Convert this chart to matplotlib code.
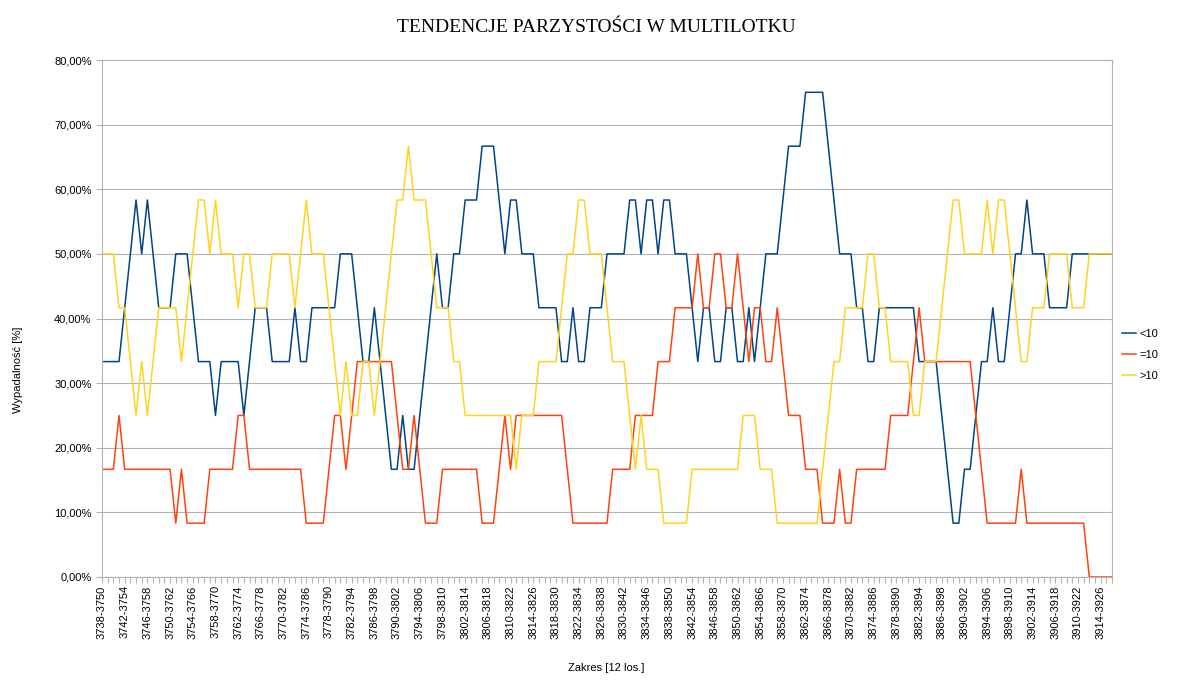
import numpy as np
import matplotlib
matplotlib.use("Agg")
import matplotlib.pyplot as plt
from matplotlib.ticker import FuncFormatter

plt.rcParams['font.family'] = ['Liberation Sans', 'DejaVu Sans']

# zakresy 12 losowań: 3738-3750 ... 3916-3928
zakresy = [f"{s}-{s + 12}" for s in range(3738, 3917)]

# ile razy (na 12 losowań) wypadło <10, =10, >10
mniej_10 = [4, 4, 4, 4, 5, 6, 7, 6, 7, 6, 5, 5, 5, 6, 6, 6, 5, 4, 4, 4,
            3, 4, 4, 4, 4, 3, 4, 5, 5, 5, 4, 4, 4, 4, 5, 4, 4, 5, 5, 5,
            5, 5, 6, 6, 6, 5, 4, 4, 5, 4, 3, 2, 2, 3, 2, 2, 3, 4, 5, 6,
            5, 5, 6, 6, 7, 7, 7, 8, 8, 8, 7, 6, 7, 7, 6, 6, 6, 5, 5, 5,
            5, 4, 4, 5, 4, 4, 5, 5, 5, 6, 6, 6, 6, 7, 7, 6, 7, 7, 6, 7,
            7, 6, 6, 6, 5, 4, 5, 5, 4, 4, 5, 5, 4, 4, 5, 4, 5, 6, 6, 6,
            7, 8, 8, 8, 9, 9, 9, 9, 8, 7, 6, 6, 6, 5, 5, 4, 4, 5, 5, 5,
            5, 5, 5, 5, 4, 4, 4, 4, 3, 2, 1, 1, 2, 2, 3, 4, 4, 5, 4, 4,
            5, 6, 6, 7, 6, 6, 6, 5, 5, 5, 5, 6, 6, 6, 6, 6, 6, 6, 6]
rowne_10 = [2, 2, 2, 3, 2, 2, 2, 2, 2, 2, 2, 2, 2, 1, 2, 1, 1, 1, 1, 2,
            2, 2, 2, 2, 3, 3, 2, 2, 2, 2, 2, 2, 2, 2, 2, 2, 1, 1, 1, 1,
            2, 3, 3, 2, 3, 4, 4, 4, 4, 4, 4, 4, 3, 2, 2, 3, 2, 1, 1, 1,
            2, 2, 2, 2, 2, 2, 2, 1, 1, 1, 2, 3, 2, 3, 3, 3, 3, 3, 3, 3,
            3, 3, 2, 1, 1, 1, 1, 1, 1, 1, 2, 2, 2, 2, 3, 3, 3, 3, 4, 4,
            4, 5, 5, 5, 5, 6, 5, 5, 6, 6, 5, 5, 6, 5, 4, 5, 5, 4, 4, 5,
            4, 3, 3, 3, 2, 2, 2, 1, 1, 1, 2, 1, 1, 2, 2, 2, 2, 2, 2, 3,
            3, 3, 3, 4, 5, 4, 4, 4, 4, 4, 4, 4, 4, 4, 3, 2, 1, 1, 1, 1,
            1, 1, 2, 1, 1, 1, 1, 1, 1, 1, 1, 1, 1, 1, 0, 0, 0, 0, 0]
wiecej_10 = [6, 6, 6, 5, 5, 4, 3, 4, 3, 4, 5, 5, 5, 5, 4, 5, 6, 7, 7, 6,
             7, 6, 6, 6, 5, 6, 6, 5, 5, 5, 6, 6, 6, 6, 5, 6, 7, 6, 6, 6,
             5, 4, 3, 4, 3, 3, 4, 4, 3, 4, 5, 6, 7, 7, 8, 7, 7, 7, 6, 5,
             5, 5, 4, 4, 3, 3, 3, 3, 3, 3, 3, 3, 3, 2, 3, 3, 3, 4, 4, 4,
             4, 5, 6, 6, 7, 7, 6, 6, 6, 5, 4, 4, 4, 3, 2, 3, 2, 2, 2, 1,
             1, 1, 1, 1, 2, 2, 2, 2, 2, 2, 2, 2, 2, 3, 3, 3, 2, 2, 2, 1,
             1, 1, 1, 1, 1, 1, 1, 2, 3, 4, 4, 5, 5, 5, 5, 6, 6, 5, 5, 4,
             4, 4, 4, 3, 3, 4, 4, 4, 5, 6, 7, 7, 6, 6, 6, 6, 7, 6, 7, 7,
             6, 5, 4, 4, 5, 5, 5, 6, 6, 6, 6, 5, 5, 5, 6, 6, 6, 6, 6]

serie = [(mniej_10, "<10", "#004586"),
         (rowne_10, "=10", "#ff420e"),
         (wiecej_10, ">10", "#ffd320")]

siatka = "#b3b3b3"

fig = plt.figure(figsize=(11.77, 6.8), dpi=100)
ax = fig.add_axes([102 / 1177, 1 - 577 / 680, 1010 / 1177, 517 / 680])

x = np.arange(len(zakresy))
for wartosci, nazwa, kolor in serie:
    ax.plot(x, np.array(wartosci) / 12 * 100, color=kolor, lw=1.1, label=nazwa)

ax.set_xlim(0, len(zakresy) - 1)
ax.set_ylim(0, 80)
ax.set_yticks(np.arange(0, 81, 10))
ax.yaxis.set_major_formatter(FuncFormatter(lambda v, p: f"{v:.2f}%".replace(".", ",")))
ax.set_xticks(x)
ax.set_xticklabels([z if i % 4 == 0 else "" for i, z in enumerate(zakresy)],
                   rotation=90, fontsize=8)
ax.tick_params(axis="both", colors=siatka, labelcolor="black", labelsize=8,
               length=4, width=0.8)
ax.tick_params(axis="x", pad=2)
ax.grid(axis="y", color=siatka, lw=0.8)
ax.set_axisbelow(True)
for s in ax.spines.values():
    s.set_color(siatka)
    s.set_linewidth(0.8)

ax.legend(loc="center left", bbox_to_anchor=(1.0, 0.43), frameon=False,
          fontsize=8, handlelength=1.3, handletextpad=0.3, labelspacing=1.0)

fig.text(596 / 1177, 1 - 27 / 680, "TENDENCJE PARZYSTOŚCI W MULTILOTKU",
         ha="center", va="center", fontsize=14,
         family=["Liberation Serif", "DejaVu Serif"])
fig.text(18 / 1177, 1 - 370 / 680, "Wypadalność [%]", rotation=90,
         ha="center", va="center", fontsize=8)
fig.text(606 / 1177, 1 - 668 / 680, "Zakres [12 los.]",
         ha="center", va="center", fontsize=8)

fig.savefig("out.png", dpi=100)
